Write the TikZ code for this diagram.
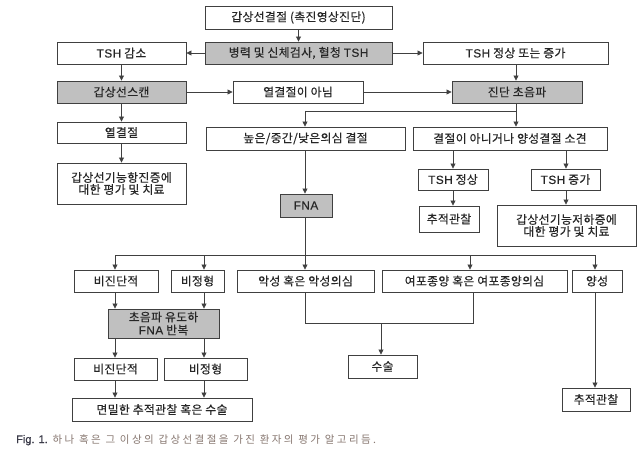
\documentclass[tikz,border=0pt]{standalone}
\usepackage{fontspec}
\setmainfont[FakeBold=0.35,LetterSpace=3]{Noto Sans CJK KR}
\newfontfamily\arial[FakeBold=0.3,LetterSpace=4]{Liberation Sans}
\newfontfamily\capfont[LetterSpace=23]{Noto Sans CJK KR}
\newfontfamily\figfont[FakeBold=0.6]{Liberation Sans}
\usetikzlibrary{arrows.meta}
\definecolor{lin}{HTML}{404040}
\definecolor{gfill}{HTML}{C0C0C0}
\definecolor{capc}{HTML}{86766F}
\definecolor{figc}{HTML}{3A3A48}
\tikzset{
  box/.style={draw=lin, line width=0.9pt, fill=white, inner sep=0pt, align=center, font=\fontsize{11.8}{13}\selectfont, text=black!85},
  gbox/.style={box, fill=gfill},
  arr/.style={draw=lin, line width=0.8pt, -{Triangle[length=5pt,width=5pt]}},
  ln/.style={draw=lin, line width=0.8pt}
}
\newcommand{\bx}[6]{\node[#1, minimum width=#4pt, minimum height=#5pt] (#2) at (#3) {#6};}
\begin{document}
\begin{tikzpicture}[x=1pt,y=-1pt]
\useasboundingbox (0,0) rectangle (641,452);
\bx{box}{top}{298.5,17.5}{187}{23}{갑상선결절 (촉진영상진단)}
\bx{box}{tshdown}{121.5,53}{129}{22}{{\arial TSH} 감소}
\bx{gbox}{hist}{298.5,53}{187}{22}{병력 및 신체검사, 혈청 {\arial TSH}}
\bx{box}{tshnorm}{515.5,53}{185}{22}{{\arial TSH} 정상 또는 증가}
\bx{gbox}{scan}{121.5,92}{129}{22}{갑상선스캔}
\bx{box}{nothot}{298,92}{130}{22}{열결절이 아님}
\bx{gbox}{us}{517,92}{130}{22}{진단 초음파}
\bx{box}{hotn}{121.5,132.5}{129}{21}{열결절}
\bx{box}{hyper}{121.5,183.5}{129}{41}{갑상선기능항진증에\\[-1pt]대한 평가 및 치료}
\bx{box}{susp}{305.5,138.5}{199}{23}{높은/중간/낮은의심 결절}
\bx{box}{nonod}{510,138.5}{194}{23}{결절이 아니거나 양성결절 소견}
\bx{gbox}{fna}{306,205.5}{52}{23}{\arial FNA}
\bx{box}{tshn}{453,179.5}{70}{21}{{\arial TSH} 정상}
\bx{box}{tshup}{565.5,179.5}{69}{21}{{\arial TSH} 증가}
\bx{box}{fua}{449,219}{60}{26}{추적관찰}
\bx{box}{hypo}{566.5,225.5}{139}{41}{갑상선기능저하증에\\[-1pt]대한 평가 및 치료}
\bx{box}{nda}{116,281}{84}{22}{비진단적}
\bx{box}{ata}{197.5,281}{53}{22}{비정형}
\bx{box}{mal}{305.5,281}{137}{22}{악성 혹은 악성의심}
\bx{box}{fol}{474.5,281}{185}{22}{여포종양 혹은 여포종양의심}
\bx{box}{ben}{597,281}{50}{22}{양성}
\bx{gbox}{rep}{163.5,323.5}{111}{29}{초음파 유도하\\[0pt]{\arial FNA} 반복}
\bx{box}{ndb}{115.5,369}{83}{22}{비진단적}
\bx{box}{atb}{205.5,369}{83}{22}{비정형}
\bx{box}{close}{162,409.5}{180}{23}{면밀한 추적관찰 혹은 수술}
\bx{box}{surg}{382.5,366.5}{69}{23}{수술}
\bx{box}{fub}{596,399.5}{68}{23}{추적관찰}
% helper coordinates
\coordinate (xa) at (115,0);
\coordinate (xb) at (204,0);
\coordinate (xc) at (305,0);
\coordinate (xd) at (470,0);
\coordinate (xe) at (595,0);
\coordinate (xf) at (516,0);
\coordinate (xg) at (453,0);
\coordinate (xh) at (566,0);
\coordinate (xi) at (473,0);
\coordinate (xj) at (381,0);
\coordinate (ya) at (0,111);
\coordinate (yb) at (0,255);
\coordinate (yc) at (0,323);
% top part
\draw[arr] (top) -- (hist);
\draw[arr] (hist) -- (tshdown);
\draw[arr] (hist) -- (tshnorm);
\draw[arr] (tshnorm.south -| xf) -- (us.north -| xf);
\draw[arr] (tshdown) -- (scan);
\draw[arr] (scan) -- (nothot);
\draw[arr] (nothot) -- (us);
\draw[arr] (scan) -- (hotn);
\draw[arr] (hotn) -- (hyper);
\draw[ln] (us.south -| xf) -- (xf |- ya) -- (xc |- ya);
\draw[arr] (xc |- ya) -- (susp.north -| xc);
\draw[arr] (xf |- ya) -- (nonod.north -| xf);
\draw[arr] (nonod.south -| xg) -- (tshn.north -| xg);
\draw[arr] (nonod.south -| xh) -- (tshup.north -| xh);
\draw[arr] (tshn.south -| xg) -- (fua.north -| xg);
\draw[arr] (tshup.south -| xh) -- (hypo.north -| xh);
\draw[arr] (susp.south -| xc) -- (fna.north -| xc);
% FNA branches
\draw[ln] (fna.south -| xc) -- (xc |- yb);
\draw[ln] (xa |- yb) -- (xe |- yb);
\draw[arr] (xa |- yb) -- (nda.north -| xa);
\draw[arr] (xb |- yb) -- (ata.north -| xb);
\draw[arr] (xc |- yb) -- (mal.north -| xc);
\draw[arr] (xd |- yb) -- (fol.north -| xd);
\draw[arr] (xe |- yb) -- (ben.north -| xe);
% repeat FNA
\draw[arr] (nda.south -| xa) -- (rep.north -| xa);
\draw[arr] (ata.south -| xb) -- (rep.north -| xb);
\draw[arr] (rep.south -| xa) -- (ndb.north -| xa);
\draw[arr] (rep.south -| xb) -- (atb.north -| xb);
\draw[arr] (ndb.south -| xa) -- (close.north -| xa);
\draw[arr] (atb.south -| xb) -- (close.north -| xb);
% surgery
\draw[ln] (mal.south -| xc) -- (xc |- yc) -- (xi |- yc) -- (fol.south -| xi);
\draw[arr] (xj |- yc) -- (surg.north -| xj);
\draw[arr] (ben.south -| xe) -- (fub.north -| xe);
% caption
\node[anchor=base west, inner sep=0pt, font=\fontsize{11}{12}\selectfont] (cap) at (16,443)
 {\textcolor{figc}{\figfont Fig. 1.}\hspace{1pt} \textcolor{capc}{\capfont\fontsize{10.5}{12}\selectfont 하나 혹은 그 이상의 갑상선결절을 가진 환자의 평가 알고리듬.}};
\end{tikzpicture}
\end{document}
